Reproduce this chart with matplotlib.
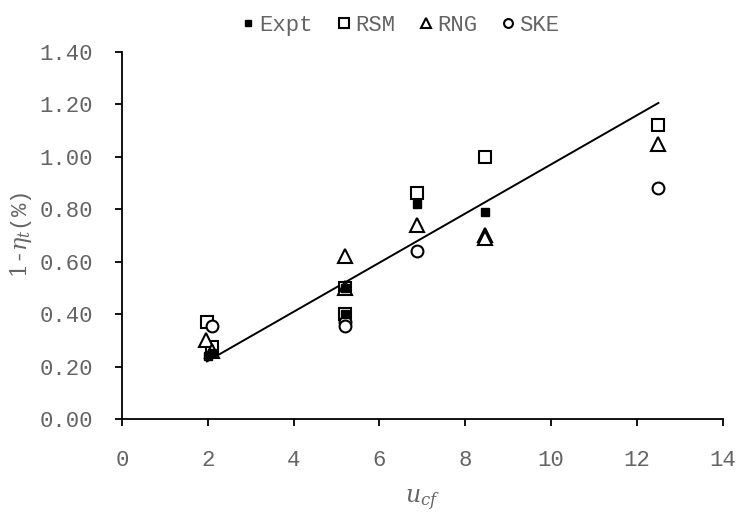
import numpy as np
import matplotlib
matplotlib.use('Agg')
import matplotlib.pyplot as plt

# measured / simulated values of 1-eta_t against u_cf
expt_x = [2.0, 2.1, 5.2, 5.2, 6.88, 8.46]
expt_y = [0.24, 0.25, 0.50, 0.40, 0.82, 0.79]

rsm_x = [1.98, 2.1, 5.2, 5.2, 6.88, 8.46, 12.5]
rsm_y = [0.37, 0.275, 0.50, 0.40, 0.86, 1.00, 1.12]

rng_x = [1.95, 2.1, 5.2, 5.2, 6.88, 8.46, 8.46, 12.5]
rng_y = [0.30, 0.26, 0.62, 0.50, 0.74, 0.70, 0.69, 1.05]

ske_x = [2.1, 5.2, 5.2, 6.88, 12.5]
ske_y = [0.355, 0.37, 0.355, 0.64, 0.88]

mono = 'Liberation Mono'
grey = '#646464'

fig = plt.figure(figsize=(7.39, 5.18), dpi=100)
ax = fig.add_axes([0.165, 0.191, 0.813, 0.709])

ax.plot(rsm_x, rsm_y, 's', ms=9, mfc='white', mec='black', mew=1.5, label='RSM', zorder=3)
ax.plot(rng_x, rng_y, '^', ms=10, mfc='white', mec='black', mew=1.5, label='RNG', zorder=3)
ax.plot(ske_x, ske_y, 'o', ms=8.5, mfc='white', mec='black', mew=1.5, label='SKE', zorder=3)
ax.plot(expt_x, expt_y, 's', ms=6, mfc='black', mec='black', label='Expt', zorder=4)

# linear fit through the experimental points
k, b = np.polyfit(expt_x, expt_y, 1)
xf = np.array([min(expt_x) - 0.02, max(rsm_x)])
ax.plot(xf, k * xf + b, color='black', lw=1.4, zorder=2)

ax.set_xlim(0, 14)
ax.set_ylim(0, 1.4)
ax.set_xticks(np.arange(0, 15, 2))
ax.set_yticks(np.arange(0, 1.41, 0.2))
ax.set_yticklabels(['%.2f' % v for v in np.arange(0, 1.41, 0.2)])

for s in ['top', 'right']:
    ax.spines[s].set_visible(False)
for s in ['left', 'bottom']:
    ax.spines[s].set_linewidth(1.3)
ax.tick_params(direction='out', length=5, width=1.3, labelsize=16, colors='black',
               labelcolor=grey)
ax.tick_params(axis='y', pad=16)
ax.tick_params(axis='x', pad=17)
for lab in ax.get_xticklabels() + ax.get_yticklabels():
    lab.set_fontfamily(mono)

ax.set_xlabel(r'$u_{cf}$', fontsize=17, color=grey, labelpad=12,
              math_fontfamily='dejavuserif')
ax.set_ylabel(r'$\mathit{1}$-$\eta_t$(%)', fontsize=16, color=grey, labelpad=4,
              fontfamily=mono, math_fontfamily='dejavuserif')

handles, labels = ax.get_legend_handles_labels()
order = [3, 0, 1, 2]
leg = ax.legend([handles[i] for i in order], [labels[i] for i in order],
                loc='upper center', bbox_to_anchor=(0.46, 1.155), ncol=4, frameon=False,
                handletextpad=0.0, columnspacing=0.9, handlelength=1.0,
                prop={'family': mono, 'size': 16}, markerscale=0.75)
for t in leg.get_texts():
    t.set_color(grey)

fig.savefig('out.png', dpi=100)
